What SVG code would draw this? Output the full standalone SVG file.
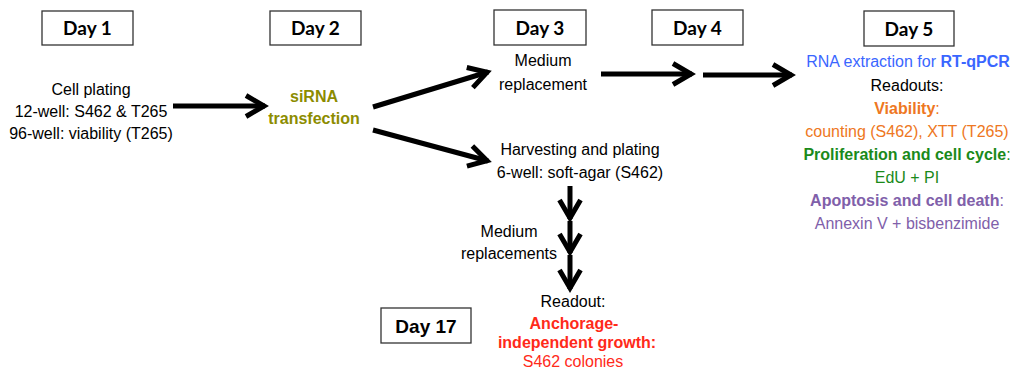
<svg xmlns="http://www.w3.org/2000/svg" width="1016" height="371" viewBox="0 0 1016 371">
<defs>
<marker id="ah" markerUnits="userSpaceOnUse" markerWidth="40" markerHeight="40" viewBox="-30 -20 40 40" refX="0" refY="0" orient="auto">
<path d="M -19 -10.5 L -1 0 L -19 10.5" fill="none" stroke="#000" stroke-width="5" stroke-linecap="butt" stroke-linejoin="miter"/>
</marker>
</defs>
<style>
.box{fill:#fff;stroke:#333;stroke-width:1.3}
.day{font-family:Lato,"Open Sans",sans-serif;font-weight:bold;font-size:19px;fill:#000;text-anchor:middle}
.day17{font-family:"Liberation Sans",Arial,sans-serif;font-weight:bold;font-size:19px;fill:#000;text-anchor:middle}
.t{font-family:"Liberation Sans",Arial,sans-serif;font-size:16px;text-anchor:middle;fill:#000}
.b{font-weight:bold}
.conn{stroke:#000;stroke-width:5;fill:none;marker-end:url(#ah)}
</style>
<g id="day1"><rect class="box" x="42" y="11" width="91" height="34"/><text class="day" x="87.5" y="35">Day 1</text></g>
<g id="day2"><rect class="box" x="270" y="11" width="91" height="34"/><text class="day" x="315.5" y="35">Day 2</text></g>
<g id="day3"><rect class="box" x="494" y="10" width="92" height="35"/><text class="day" x="540" y="35">Day 3</text></g>
<g id="day4"><rect class="box" x="652" y="10" width="91" height="35"/><text class="day" x="697.5" y="35">Day 4</text></g>
<g id="day5"><rect class="box" x="864" y="11" width="90" height="35"/><text class="day" x="909" y="36">Day 5</text></g>
<g id="day17"><rect class="box" x="381" y="308" width="90" height="35"/><text class="day17" x="426" y="333">Day 17</text></g>
<g id="cellplating">
<text class="t" x="91" y="95">Cell plating</text>
<text class="t" x="91" y="117">12-well: S462 &amp; T265</text>
<text class="t" x="91" y="139">96-well: viability (T265)</text>
</g>
<g id="sirna">
<text class="t b" x="314" y="102" style="fill:#8c8c00">siRNA</text>
<text class="t b" x="314" y="124" style="fill:#8c8c00">transfection</text>
</g>
<g id="medium">
<text class="t" x="543" y="66">Medium</text>
<text class="t" x="543" y="90">replacement</text>
</g>
<g id="harvest">
<text class="t" x="580" y="155">Harvesting and plating</text>
<text class="t" x="580" y="178">6-well: soft-agar (S462)</text>
</g>
<g id="day5text">
<text class="t" x="908" y="67" style="fill:#3a66ff">RNA extraction for <tspan font-weight="bold">RT-qPCR</tspan></text>
<text class="t" x="907" y="91">Readouts:</text>
<text class="t" x="907" y="114" style="fill:#ee7722"><tspan font-weight="bold">Viability</tspan>:</text>
<text class="t" x="907" y="137" style="fill:#ee7722">counting (S462), XTT (T265)</text>
<text class="t" x="907" y="160" style="fill:#1a8a1a"><tspan font-weight="bold">Proliferation and cell cycle</tspan>:</text>
<text class="t" x="907" y="183" style="fill:#1a8a1a">EdU + PI</text>
<text class="t" x="907" y="206" style="fill:#8060aa"><tspan font-weight="bold">Apoptosis and cell death</tspan>:</text>
<text class="t" x="907" y="229" style="fill:#8060aa">Annexin V + bisbenzimide</text>
</g>
<g id="mediumrep">
<text class="t" x="509" y="237">Medium</text>
<text class="t" x="509" y="259">replacements</text>
</g>
<g id="readout">
<text class="t" x="573" y="307">Readout:</text>
<text class="t b" x="574" y="329" style="fill:#ff2a1a">Anchorage-</text>
<text class="t b" x="577" y="348" style="fill:#ff2a1a">independent growth:</text>
<text class="t" x="573" y="367" style="fill:#ff2a1a">S462 colonies</text>
</g>
<g id="connectors">
<line class="conn" x1="173" y1="106" x2="265" y2="106"/>
<line class="conn" x1="373" y1="107" x2="488" y2="72"/>
<line class="conn" x1="373" y1="130" x2="488" y2="161"/>
<line class="conn" x1="601" y1="74" x2="692" y2="74"/>
<line class="conn" x1="703" y1="75" x2="792" y2="75"/>
<line class="conn" x1="570" y1="186" x2="570" y2="219"/>
<line class="conn" x1="570" y1="221" x2="570" y2="253"/>
<line class="conn" x1="570" y1="255" x2="570" y2="289"/>
</g>
</svg>
